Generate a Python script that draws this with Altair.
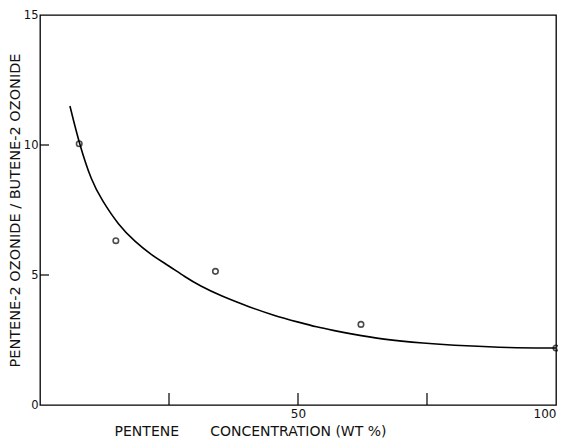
import altair as alt
import pandas as pd

# measured points (open circles)
pt_x = [7.6, 14.7, 34.0, 62.2, 100.0]
pt_y = [10.05, 6.32, 5.14, 3.10, 2.19]

# hand-drawn fitted curve
cv_x = [5.8, 7.6, 10.0, 12.0, 15.2, 18.4, 21.6, 24.9, 28.1, 31.0, 35.0, 40.7,
        45.2, 50.4, 53.6, 56.8, 60.1, 66.5, 74.0, 82.8, 90.5, 100.0]
cv_y = [11.5, 10.05, 8.6, 7.88, 6.92, 6.28, 5.77, 5.36, 4.93, 4.58, 4.2, 3.76,
        3.45, 3.17, 3.0, 2.87, 2.74, 2.52, 2.38, 2.27, 2.2, 2.19]

x_ticks = [25, 50, 75]
y_ticks = [5, 10]
x_labels = [50, 100]
y_labels = [0, 5, 10, 15]

FONT = "DejaVu Sans"
W, H = 516, 390

pts = pd.DataFrame({"x": pt_x, "y": pt_y})
curve = pd.DataFrame({"x": cv_x, "y": cv_y})
xt = pd.DataFrame({"x": x_ticks})
yt = pd.DataFrame({"y": y_ticks})

xscale = alt.Scale(domain=[0, 100], nice=False, zero=False)
yscale = alt.Scale(domain=[0, 15], nice=False, zero=False)

NB = "\u00a0"
xaxis = alt.Axis(values=x_labels, ticks=False, domain=False, grid=False,
                 labelFont=FONT, labelFontSize=12, labelColor="#111",
                 labelPadding=3, labelFlush=True,
                 title="PENTENE" + NB * 7 + "CONCENTRATION (WT %)",
                 titleFont=FONT, titleFontSize=14, titleFontWeight="normal",
                 titleColor="#111", titlePadding=5, titleX=210, titleAlign="center")
yaxis = alt.Axis(values=y_labels, ticks=False, domain=False, grid=False,
                 labelFont=FONT, labelFontSize=11.5, labelColor="#111",
                 labelPadding=2,
                 title="PENTENE-2 OZONIDE / BUTENE-2 OZONIDE",
                 titleFont=FONT, titleFontSize=14.5, titleFontWeight="normal",
                 titleColor="#111", titlePadding=1)

line = alt.Chart(curve).mark_line(color="black", strokeWidth=1.6,
                                  interpolate="basis").encode(
    x=alt.X("x:Q", scale=xscale, axis=xaxis),
    y=alt.Y("y:Q", scale=yscale, axis=yaxis),
)
points = alt.Chart(pts).mark_point(shape="circle", size=30, filled=False,
                                   color="black", strokeWidth=1.6).encode(
    x=alt.X("x:Q", scale=xscale),
    y=alt.Y("y:Q", scale=yscale),
)
xtick_marks = alt.Chart(xt).mark_rule(color="black", strokeWidth=1.2).encode(
    x=alt.X("x:Q", scale=xscale),
    y=alt.value(H), y2=alt.value(H - 12),
)
ytick_marks = alt.Chart(yt).mark_rule(color="black", strokeWidth=1.2).encode(
    y=alt.Y("y:Q", scale=yscale),
    x=alt.value(0), x2=alt.value(9),
)

chart = alt.layer(line, points, xtick_marks, ytick_marks).properties(
    width=W, height=H,
    background="white",
    autosize=alt.AutoSizeParams(type="none"),
    padding={"left": 32, "top": 7, "right": 2, "bottom": 40},
).configure_view(stroke="black", strokeWidth=1.3)

chart.save("out.html", embed_options={"renderer": "svg", "actions": False})
